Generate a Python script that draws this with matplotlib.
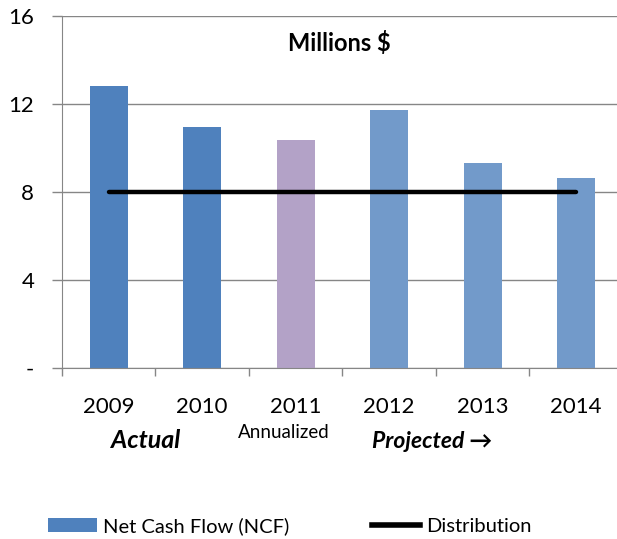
import matplotlib.pyplot as plt
from matplotlib.patches import Patch
from matplotlib.lines import Line2D

plt.rcParams['font.family'] = ['Lato', 'DejaVu Sans']

years = ['2009', '2010', '2011', '2012', '2013', '2014']
ncf = [12.82, 10.95, 10.36, 11.73, 9.32, 8.64]
distribution = [8, 8, 8, 8, 8, 8]
bar_colors = ['#4F81BD', '#4F81BD', '#B3A2C7', '#729ACA', '#729ACA', '#729ACA']
y_ticks = [0, 4, 8, 12, 16]
y_labels = ['-', '4', '8', '12', '16']

W, H = 617, 539
fig = plt.figure(figsize=(W / 100, H / 100), dpi=100)
# axes box in pixels: left 62, right 623 (runs off the edge), top 16, bottom 368
ax = fig.add_axes([62 / W, 1 - 368 / H, (623 - 62) / W, (368 - 16) / H])

x = list(range(len(years)))
ax.bar(x, ncf, width=0.41, color=bar_colors, zorder=2)
ax.plot(x, distribution, color='black', lw=3.2, solid_capstyle='round', zorder=3)

ax.set_xlim(-0.5, 5.5)
ax.set_ylim(0, 16)
ax.set_yticks(y_ticks)
ax.set_yticklabels(y_labels, fontsize=16)
ax.set_xticks([i - 0.5 for i in x])
ax.set_xticklabels([])
ax.set_xticks(x, minor=True)
ax.set_xticklabels(years, minor=True, fontsize=16)
ax.tick_params(axis='x', which='major', length=6, width=1, color='#868686', direction='out')
ax.tick_params(axis='x', which='minor', length=0, pad=21)
ax.tick_params(axis='y', length=7, width=1, color='#868686', pad=13)
ax.yaxis.grid(True, color='#868686', lw=1, zorder=0)

for side in ['top', 'right']:
    ax.spines[side].set_visible(False)
for side in ['left', 'bottom']:
    ax.spines[side].set_color('#868686')

fig.text(339 / W, 1 - 43 / H, 'Millions $', ha='center', va='center',
         fontsize=17, fontweight='bold')
fig.text(146 / W, 1 - 441 / H, 'Actual', ha='center', va='center',
         fontsize=18, fontweight='bold', style='italic')
fig.text(284 / W, 1 - 432 / H, 'Annualized', ha='center', va='center', fontsize=13.5)
fig.text(432 / W, 1 - 442 / H, 'Projected \u2192', ha='center', va='center',
         fontsize=16.5, fontweight='bold', style='italic')

handles = [Patch(facecolor='#4F81BD'), Line2D([], [], color='black', lw=4)]
fig.legend(handles, ['Net Cash Flow (NCF)', 'Distribution'], loc='center',
           bbox_to_anchor=(290 / W, 1 - 526 / H), ncol=2, frameon=False,
           fontsize=14.5, handlelength=2.4, handleheight=0.7, handletextpad=0.3,
           columnspacing=4.1)

fig.savefig('out.png', dpi=100)
